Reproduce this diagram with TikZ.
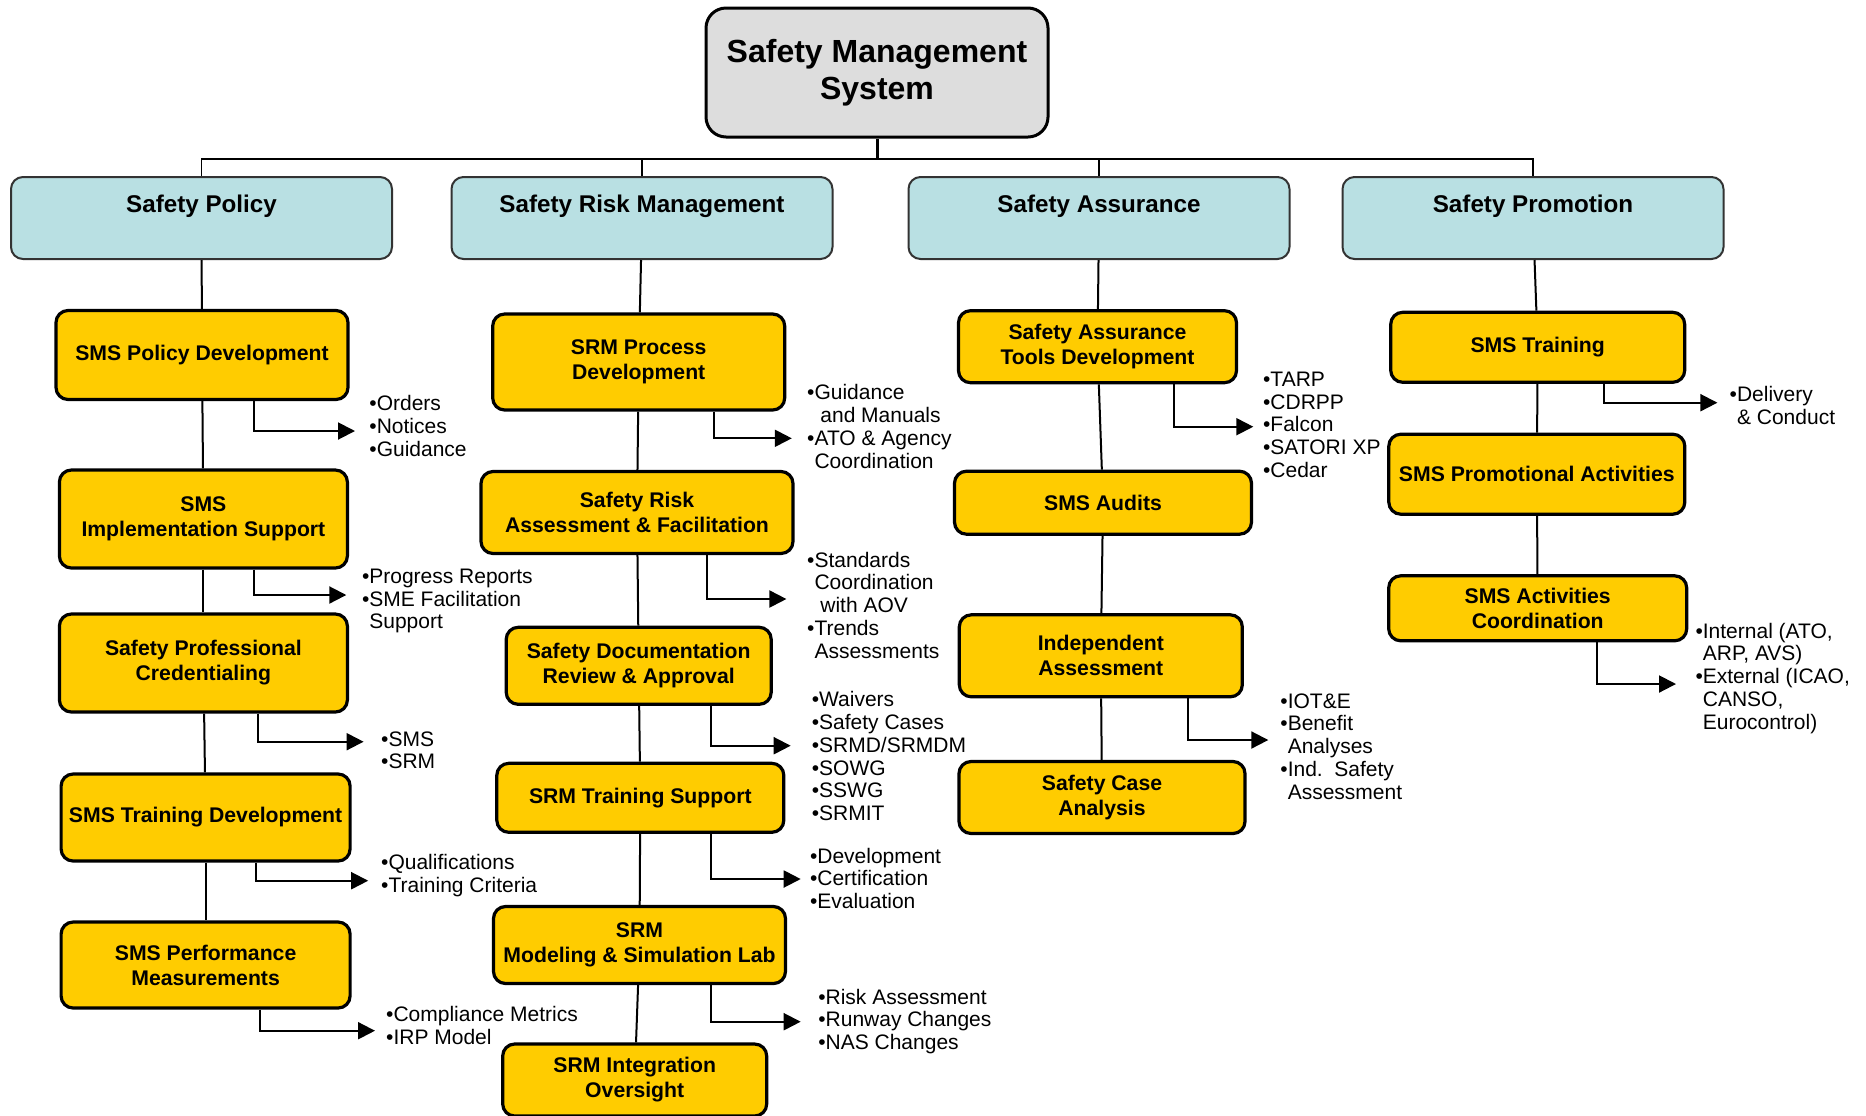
\documentclass[tikz,border=0pt]{standalone}
\usepackage{fontspec}
\setmainfont{Liberation Sans}
\usetikzlibrary{arrows.meta,calc}

\definecolor{smsgray}{RGB}{221,221,221}
\definecolor{pillarblue}{RGB}{185,224,227}
\definecolor{taskyellow}{RGB}{255,204,0}
\newcommand{\bgap}{\phantom{•}}

\begin{document}
\begin{tikzpicture}[x=0.5pt,y=-0.5pt,
  top node/.style={draw,line width=1.5pt,rounded corners=10pt,fill=smsgray,align=center,
    font=\bfseries\fontsize{16}{18.5}\selectfont,minimum width=171pt,minimum height=64.5pt,inner sep=0pt},
  pillar node/.style={draw=black!80,line width=1pt,rounded corners=6pt,fill=pillarblue,
    font=\bfseries\fontsize{12.1}{14}\selectfont,text height=9pt,text depth=14.3pt,
    minimum width=190.5pt,minimum height=41pt,inner sep=0pt},
  task node/.style={draw,line width=1.6pt,rounded corners=6pt,fill=taskyellow,align=center,
    font=\bfseries\fontsize{10.6}{12.5}\selectfont,inner sep=1pt},
  note node/.style={anchor=north west,align=left,inner sep=0pt,font=\fontsize{10.5}{11.4}\selectfont},
  bus/.style={line width=0.8pt},
  link/.style={line width=1pt},
  elbow/.style={line width=1pt,-{Triangle[length=8.5pt,width=8.5pt]}}]

  \useasboundingbox (0,0) rectangle (1866,1115);

  \node[top node] (0) at (877,72.5) {Safety Management\\System};

  \node[pillar node] (1) at (201.5,218) {Safety Policy};
  \node[pillar node] (2) at (642,218) {Safety Risk Management};
  \node[pillar node] (3) at (1099,218) {Safety Assurance};
  \node[pillar node] (4) at (1533,218) {Safety Promotion};

  \coordinate (bus) at (877,159);
  \draw[line width=1.5pt] (0) -- (bus);
  \draw[bus] (1) |- (bus) -| (4);
  \draw[bus] (2) -- (2 |- bus);
  \draw[bus] (3) -- (3 |- bus);

  % Safety Policy
  \node[task node,minimum width=146pt,minimum height=44.5pt] (5) at (202,355) {SMS Policy Development};
  \node[task node,minimum width=144pt,minimum height=49pt] (6) at (203.4,519) {SMS\\Implementation Support};
  \node[task node,minimum width=144pt,minimum height=49pt] (7) at (203.4,663) {Safety Professional\\Credentialing};
  \node[task node,minimum width=144.5pt,minimum height=43.5pt] (8) at (205.6,817.5) {SMS Training Development};
  \node[task node,minimum width=144.5pt,minimum height=43pt] (9) at (205.6,965) {SMS Performance\\Measurements};

  % Safety Risk Management
  \node[task node,minimum width=146pt,minimum height=48pt] (10) at (638.7,362) {SRM Process\\Development};
  \node[task node,minimum width=156pt,minimum height=41pt] (11) at (637,512.5) {Safety Risk\\Assessment \& Facilitation};
  \node[task node,minimum width=132.5pt,minimum height=38.5pt] (12) at (638.7,665.8) {Safety Documentation\\Review \& Approval};
  \node[task node,minimum width=143.5pt,minimum height=34.5pt] (13) at (640.3,797.8) {SRM Training Support};
  \node[task node,minimum width=146pt,minimum height=38.5pt] (14) at (639.5,945) {SRM\\Modeling \& Simulation Lab};
  \node[task node,minimum width=132pt,minimum height=36pt] (15) at (634.7,1080) {SRM Integration\\Oversight};

  % Safety Assurance
  \node[task node,minimum width=139pt,minimum height=36pt] (16) at (1097.5,346.7) {Safety Assurance\\Tools Development};
  \node[task node,minimum width=148.5pt,minimum height=31.5pt] (17) at (1103,502.7) {SMS Audits};
  \node[task node,minimum width=141.5pt,minimum height=41pt] (18) at (1100.8,655.8) {Independent\\Assessment};
  \node[task node,minimum width=143pt,minimum height=36pt] (19) at (1102,797.5) {Safety Case\\Analysis};

  % Safety Promotion
  \node[task node,minimum width=147pt,minimum height=35pt] (20) at (1537.7,347.3) {SMS Training};
  \node[task node,minimum width=148pt,minimum height=40pt] (21) at (1536.8,474.2) {SMS Promotional Activities};
  \node[task node,minimum width=149pt,minimum height=32.5pt] (22) at (1537.7,608.3) {SMS Activities\\Coordination};

  \path[link]
    (1) edge (5) (5) edge (6) (6) edge (7) (7) edge (8) (8) edge (9)
    (2) edge (10) (10) edge (11) (11) edge (12) (12) edge (13) (13) edge (14) (14) edge (15)
    (3) edge (16) (16) edge (17) (17) edge (18) (18) edge (19)
    (4) edge (20) (20) edge (21) (21) edge (22);

  \node[note node] (n5) at (369,395) {•Orders\\•Notices\\•Guidance};
  \node[note node] (n6) at (361.6,568.5) {•Progress Reports\\•SME Facilitation\\\bgap Support};
  \node[note node] (n7) at (380.8,731) {•SMS\\•SRM};
  \node[note node] (n8) at (380.8,854) {•Qualifications\\•Training Criteria};
  \node[note node] (n9) at (385.8,1006) {•Compliance Metrics\\•IRP Model};
  \node[note node] (n10) at (806.8,384) {•Guidance\\\bgap\ and Manuals\\•ATO \& Agency\\\bgap Coordination};
  \node[note node] (n11) at (806.8,551.5) {•Standards\\\bgap Coordination\\\bgap\ with AOV\\•Trends\\\bgap Assessments};
  \node[note node] (n12) at (811.4,691) {•Waivers\\•Safety Cases\\•SRMD/SRMDM\\•SOWG\\•SSWG\\•SRMIT};
  \node[note node] (n13) at (809.6,847.5) {•Development\\•Certification\\•Evaluation};
  \node[note node] (n14) at (817.9,988.5) {•Risk Assessment\\•Runway Changes\\•NAS Changes};
  \node[note node] (n16) at (1262.7,371.5) {•TARP\\•CDRPP\\•Falcon\\•SATORI XP\\•Cedar};
  \node[note node] (n18) at (1280,693) {•IOT\&E\\•Benefit\\\bgap Analyses\\•Ind.\ \ Safety\\\bgap Assessment};
  \node[note node] (n20) at (1729.3,386) {•Delivery\\\bgap\& Conduct};
  \node[note node] (n22) at (1695.1,622.5) {•Internal (ATO,\\\bgap ARP, AVS)\\•External (ICAO,\\\bgap CANSO,\\\bgap Eurocontrol)};

  \coordinate (a5) at (355,431);
  \coordinate (a6) at (346.3,595);
  \coordinate (a7) at (363.6,741.7);
  \coordinate (a8) at (368.2,880.7);
  \coordinate (a9) at (375,1030.7);
  \coordinate (a10) at (791.8,438.3);
  \coordinate (a11) at (786.4,599);
  \coordinate (a12) at (790.7,745.7);
  \coordinate (a13) at (800.7,879);
  \coordinate (a14) at (800.7,1021.7);
  \coordinate (a16) at (1253.3,426.7);
  \coordinate (a18) at (1268.3,740);
  \coordinate (a20) at (1717.4,402.7);
  \coordinate (a22) at (1676,684);

  \draw[elbow] ($(5.south)+(52,0)$) |- (a5);
  \draw[elbow] ($(6.south)+(50.3,0)$) |- (a6);
  \draw[elbow] ($(7.south)+(54.9,0)$) |- (a7);
  \draw[elbow] ($(8.south)+(50,0)$) |- (a8);
  \draw[elbow] ($(9.south)+(53.9,0)$) |- (a9);
  \draw[elbow] ($(10.south)+(75.3,0)$) |- (a10);
  \draw[elbow] ($(11.south)+(70,0)$) |- (a11);
  \draw[elbow] ($(12.south)+(72.7,0)$) |- (a12);
  \draw[elbow] ($(13.south)+(71.1,0)$) |- (a13);
  \draw[elbow] ($(14.south)+(71.9,0)$) |- (a14);
  \draw[elbow] ($(16.south)+(76.5,0)$) |- (a16);
  \draw[elbow] ($(18.south)+(87.5,0)$) |- (a18);
  \draw[elbow] ($(20.south)+(66.5,0)$) |- (a20);
  \draw[elbow] ($(22.south)+(59,0)$) |- (a22);
\end{tikzpicture}
\end{document}
